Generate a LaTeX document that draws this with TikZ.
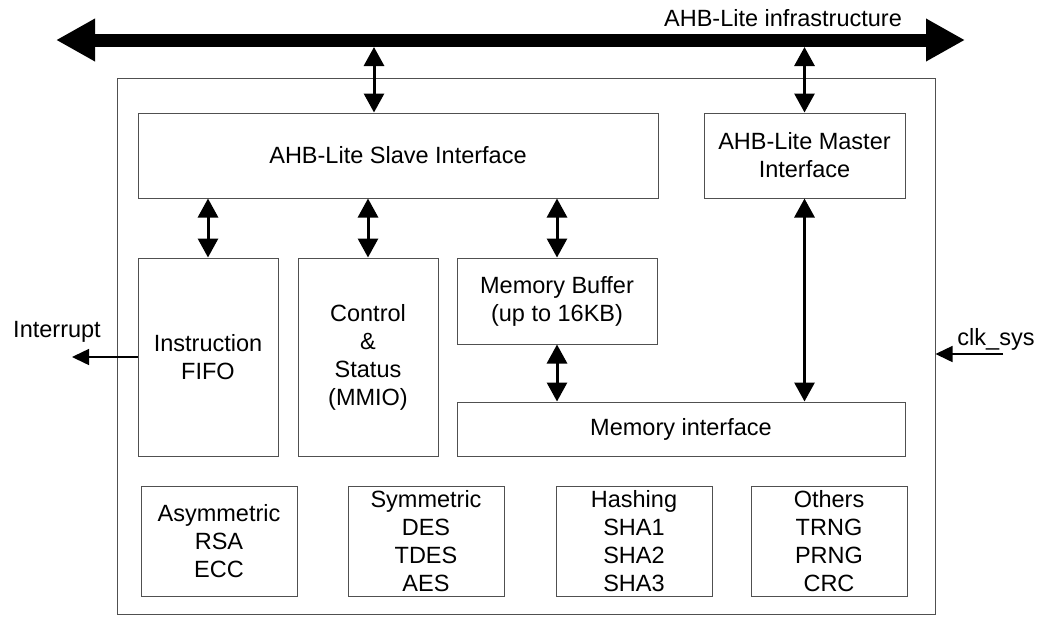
\documentclass[tikz,border=0pt]{standalone}
\usepackage{fontspec}
\setmainfont{Liberation Sans}
\usetikzlibrary{arrows.meta}
\definecolor{framegray}{RGB}{80,80,80}
\tikzset{
  blk/.style={draw=framegray, line width=1pt, inner sep=0pt, align=center},
  link/.style={line width=3pt, {Triangle[width=20pt,length=19pt]}-{Triangle[width=20pt,length=19pt]}},
  sig/.style={line width=1.5pt, -{Triangle[width=16pt,length=17pt]}},
  bus/.style={line width=13pt, {Triangle[width=40pt,length=39pt]}-{Triangle[width=40pt,length=39pt]}},
}
\begin{document}
\begin{tikzpicture}[x=1pt, y=-1pt, every node/.style={font=\fontsize{23.5}{28}\selectfont}]
  \useasboundingbox (0,0) rectangle (1038,630);
  % core frame and the bus
  \node[blk, minimum width=818pt, minimum height=536pt] (core) at (526,346) {};
  \coordinate (busW) at (56,40);
  \coordinate (busE) at (965,40);
  \draw[bus] (busW) -- (busE);
  \node (buslbl) at (783,18) {AHB-Lite infrastructure};
  % interfaces
  \node[blk, minimum width=520pt, minimum height=85pt] (slave) at (398,155.5) {AHB-Lite Slave Interface};
  \node[blk, minimum width=201pt, minimum height=85pt] (master) at (804.5,155.5) {AHB-Lite Master\\Interface};
  \node[blk, minimum width=140pt, minimum height=198pt] (fifo) at (208,357) {Instruction\\FIFO};
  \node[blk, minimum width=140pt, minimum height=198pt] (ctrl) at (368,357) {Control\\\&\\Status\\(MMIO)};
  \node[blk, minimum width=200pt, minimum height=86pt] (buffer) at (557,301) {Memory Buffer\\(up to 16KB)};
  \node[blk, minimum width=448pt, minimum height=54pt] (meminf) at (681,429) {Memory interface};
  % crypto engines
  \foreach \name/\cx/\txt in {asym/219/{Asymmetric\\RSA\\ECC},
                              sym/426/{Symmetric\\DES\\TDES\\AES},
                              hash/634/{Hashing\\SHA1\\SHA2\\SHA3},
                              other/829/{Others\\TRNG\\PRNG\\CRC}} {
    \node[blk, minimum width=156pt, minimum height=110pt] (\name) at (\cx,541) {\txt};
  }
  % bus taps
  \coordinate (slvtap) at (374,47);
  \coordinate (msttap) at (804.5,47);
  \draw[link] (slvtap) -- (slvtap |- slave.north);
  \draw[link] (msttap) -- (master.north);
  % internal links
  \draw[link] (fifo.north |- slave.south) -- (fifo.north);
  \draw[link] (ctrl.north |- slave.south) -- (ctrl.north);
  \draw[link] (buffer.north |- slave.south) -- (buffer.north);
  \draw[link] (buffer.south) -- (buffer.south |- meminf.north);
  \draw[link] (master.south) -- (master.south |- meminf.north);
  % side signals
  \coordinate (intr) at (72,357);
  \draw[sig] (fifo.west) -- (intr);
  \node (intrlbl) at (57,332) {Interrupt};
  \coordinate (clk) at (1003,354);
  \draw[sig] (clk) -- (clk -| core.east);
  \node (clklbl) at (996,339) {clk\_sys};
\end{tikzpicture}
\end{document}
